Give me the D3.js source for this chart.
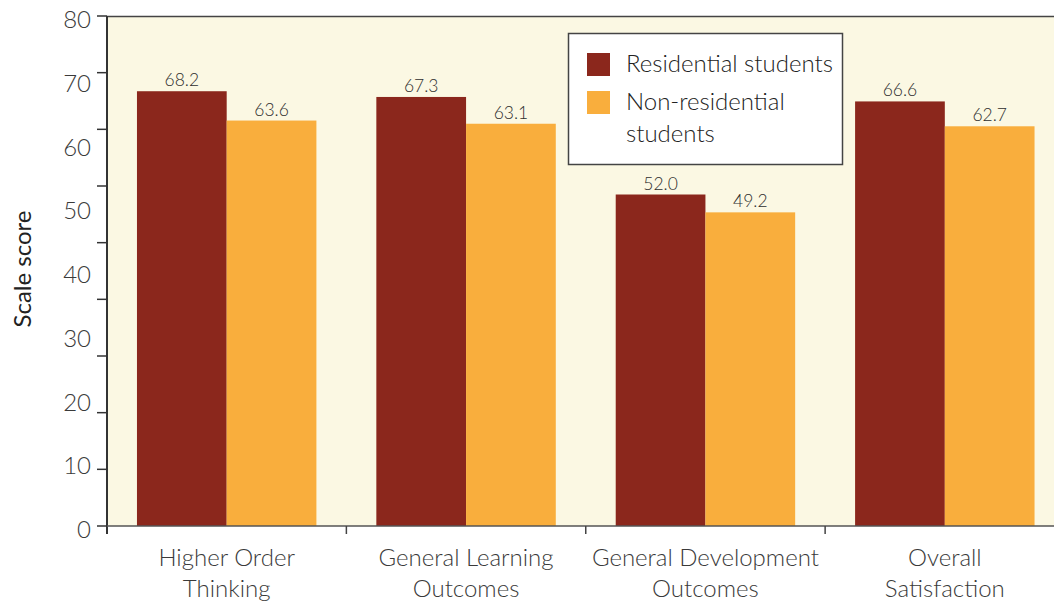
<!DOCTYPE html>
<html><head><meta charset="utf-8">
<script src="https://cdn.jsdelivr.net/npm/d3@7/dist/d3.min.js"></script>
<style>body{margin:0;background:#fff}svg{display:block}</style>
</head><body>
<svg id="c" width="1054" height="602"></svg>
<script>
const categories = [["Higher Order","Thinking"],["General Learning","Outcomes"],["General Development","Outcomes"],["Overall","Satisfaction"]];
const seriesNames = ["Residential students","Non-residential students"];
const residential = [68.2, 67.3, 52.0, 66.6];
const nonResidential = [63.6, 63.1, 49.2, 62.7];
const yTicks = [0,10,20,30,40,50,60,70,80];
const colors = ["#8B271C", "#F9AE3D"];

(function(){
const svg = d3.select("#c");
const font = "Lato, 'Open Sans', sans-serif";
const pL = 107, pT = 16, pB = 526, pR = 1064.5;
const catKeys = categories.map(c => c.join(" "));
const x0 = d3.scaleBand().domain(catKeys).range([pL, pR]).padding(0);
const x1 = d3.scaleBand().domain([0,1]).range([0, x0.bandwidth()]).paddingInner(0).paddingOuter(0.334);
const y = d3.scaleLinear().domain([0,80]).range([pB, pT]);

svg.append("rect").attr("x", pL).attr("y", pT).attr("width", 1054-pL).attr("height", pB-pT).attr("fill", "#FBF8E3");
svg.append("line").attr("x1", pL).attr("x2", 1054).attr("y1", pT+0.5).attr("y2", pT+0.5).attr("stroke", "#444").attr("stroke-width", 1.5);

const data = catKeys.map((k,i) => ({k, vals:[residential[i], nonResidential[i]]}));
const g = svg.append("g").selectAll("g").data(data).join("g").attr("transform", d => `translate(${x0(d.k)},0)`);
g.selectAll("rect").data(d => d.vals.map((v,j)=>({v,j}))).join("rect")
  .attr("x", d => x1(d.j)).attr("width", x1.bandwidth())
  .attr("y", d => y(d.v)).attr("height", d => pB - y(d.v))
  .attr("fill", d => colors[d.j]);
g.selectAll("text").data(d => d.vals.map((v,j)=>({v,j}))).join("text")
  .attr("x", d => x1(d.j) + x1.bandwidth()/2).attr("y", d => y(d.v) - 5)
  .attr("text-anchor","middle").attr("font-family", font).attr("font-weight", 300)
  .attr("font-size", 17.5).attr("fill", "#2e2e2e").text(d => d.v.toFixed(1));

svg.append("line").attr("x1", pL).attr("x2", pL).attr("y1", pT).attr("y2", pB+8).attr("stroke", "#333").attr("stroke-width", 2);
const tickPos = d3.scaleLinear().domain([0,9]).range([pB, pT]);
svg.append("g").selectAll("line").data(d3.range(10)).join("line")
  .attr("x1", pL-10).attr("x2", pL).attr("y1", d => tickPos(d)).attr("y2", d => tickPos(d))
  .attr("stroke", "#333").attr("stroke-width", 1.5);
svg.append("g").selectAll("text").data(yTicks).join("text")
  .attr("x", 91).attr("y", d => y(d) + 12).attr("text-anchor", "end")
  .attr("font-family", font).attr("font-weight", 300).attr("font-size", 24).attr("fill", "#3a3a3a")
  .text(d => d);

svg.append("text").attr("transform", "translate(31,269) rotate(-90)").attr("text-anchor","middle")
  .attr("font-family", font).attr("font-size", 24).attr("fill", "#222").text("Scale score");

svg.append("line").attr("x1", pL).attr("x2", 1054).attr("y1", pB).attr("y2", pB).attr("stroke", "#555").attr("stroke-width", 1.5);
svg.append("g").selectAll("line").data(catKeys.slice(1)).join("line")
  .attr("x1", d => x0(d)).attr("x2", d => x0(d)).attr("y1", pB).attr("y2", pB+8)
  .attr("stroke", "#444").attr("stroke-width", 1.5);
const xl = svg.append("g").selectAll("text").data(categories).join("text")
  .attr("x", (d,i) => x0(catKeys[i]) + x0.bandwidth()/2).attr("y", 566)
  .attr("text-anchor","middle").attr("font-family", font).attr("font-weight", 300)
  .attr("font-size", 24).attr("fill", "#3a3a3a");
xl.selectAll("tspan").data(d => d).join("tspan")
  .attr("x", function(){ return this.parentNode.getAttribute("x"); })
  .attr("dy", (d,i) => i ? 31 : 0).text(d => d);

const lg = svg.append("g");
lg.append("rect").attr("x", 568.5).attr("y", 33.5).attr("width", 274).attr("height", 131).attr("fill", "#fff").attr("stroke", "#444").attr("stroke-width", 1.5);
const legendLines = [["Residential students"],["Non-residential","students"]];
seriesNames.forEach((s,i) => {
  const yy = 53 + i*38;
  lg.append("rect").attr("x", 587).attr("y", yy).attr("width", 23).attr("height", 23).attr("fill", colors[i]);
  const t = lg.append("text").attr("x", 626).attr("y", yy + 19).attr("font-family", font).attr("font-weight", 300)
    .attr("font-size", 24).attr("fill", "#222");
  t.selectAll("tspan").data(legendLines[i]).join("tspan").attr("x", 626).attr("dy", (d,k) => k ? 32 : 0).text(d => d);
});
})();
</script>
</body></html>
